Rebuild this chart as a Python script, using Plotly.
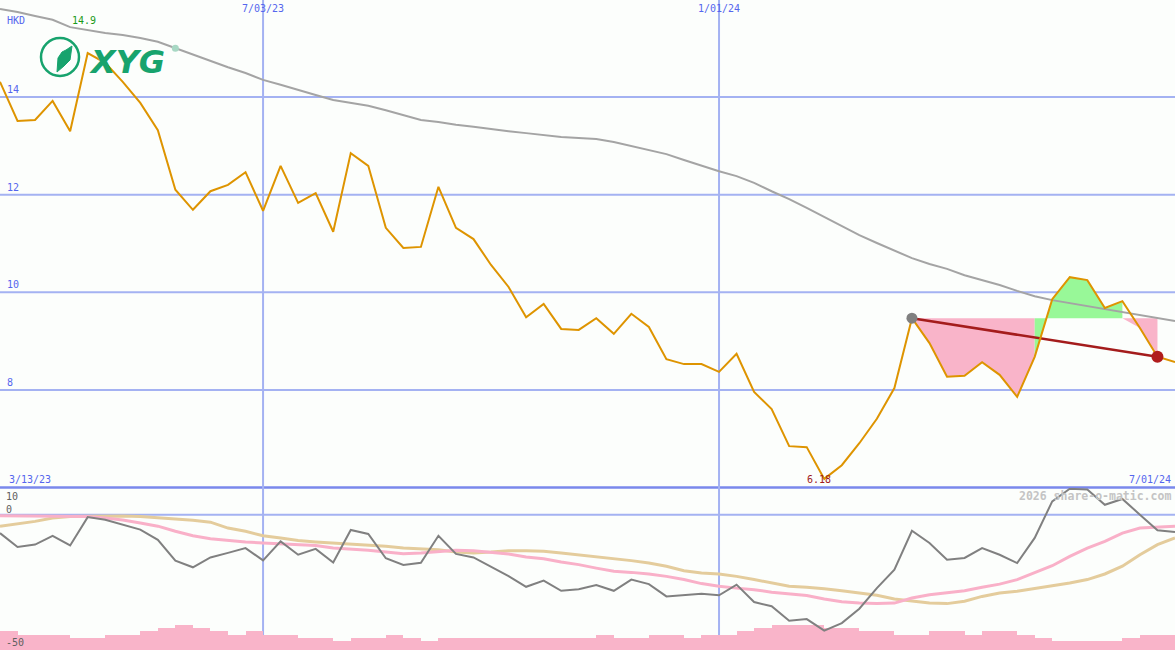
import pandas as pd
import plotly.graph_objects as go

# ---------------- data ----------------
dates = pd.date_range("2023-03-20", periods=68, freq="7D")

price = [14.31, 13.51, 13.53, 13.92, 13.30, 14.90, 14.70, 14.31, 13.88, 13.32,
         12.10, 11.69, 12.07, 12.20, 12.46, 11.67, 12.59, 11.83, 12.03, 11.24,
         12.85, 12.59, 11.32, 10.91, 10.93, 12.16, 11.32, 11.09, 10.56, 10.11,
         9.49, 9.76, 9.25, 9.23, 9.47, 9.15, 9.56, 9.29, 8.63, 8.53,
         8.53, 8.37, 8.74, 7.96, 7.61, 6.85, 6.83, 6.18, 6.46, 6.91,
         7.41, 8.04, 9.47, 8.96, 8.27, 8.29, 8.57, 8.31, 7.86, 8.68,
         9.86, 10.31, 10.25, 9.68, 9.82, 9.27, 8.68, 8.57]

moving_avg = [15.80, 15.74, 15.66, 15.58, 15.43, 15.37, 15.31, 15.27, 15.21, 15.13,
              15.00, 14.86, 14.74, 14.61, 14.49, 14.35, 14.25, 14.14, 14.04, 13.94,
              13.88, 13.82, 13.73, 13.63, 13.53, 13.49, 13.43, 13.39, 13.34, 13.30,
              13.26, 13.22, 13.18, 13.16, 13.14, 13.08, 13.00, 12.91, 12.83, 12.71,
              12.59, 12.48, 12.38, 12.24, 12.07, 11.91, 11.73, 11.54, 11.36, 11.17,
              11.01, 10.85, 10.70, 10.58, 10.48, 10.35, 10.25, 10.15, 10.03, 9.92,
              9.84, 9.78, 9.72, 9.66, 9.60, 9.54, 9.47, 9.41]

oscillator = [-6.9, -12.1, -11.2, -7.9, -11.5, -0.9, -1.9, -3.7, -5.6, -9.4,
              -17.2, -19.7, -16.0, -14.3, -12.5, -17.1, -10.0, -15.0, -12.8, -17.9,
              -5.7, -7.2, -16.3, -18.8, -18.0, -7.9, -14.7, -16.0, -19.5, -23.0,
              -27.0, -24.7, -28.5, -27.9, -26.3, -28.5, -24.3, -26.0, -30.6, -30.2,
              -29.6, -30.2, -26.2, -32.7, -34.3, -39.7, -39.1, -43.4, -40.6, -35.2,
              -27.5, -20.6, -6.0, -10.6, -16.9, -16.2, -12.5, -15.0, -18.1, -8.7,
              5.0, 9.7, 9.4, 3.7, 5.9, 0.0, -5.8, -6.5]

osc_fast = [-0.4, -0.5, -0.6, -0.6, -0.6, -0.7, -1.2, -2.0, -3.1, -4.3,
            -6.2, -7.9, -9.0, -9.7, -10.2, -10.6, -10.9, -11.2, -11.5, -12.5,
            -12.8, -13.3, -14.0, -14.6, -14.3, -13.7, -13.3, -13.5, -14.1, -14.7,
            -15.8, -16.5, -17.7, -18.7, -20.0, -21.2, -21.6, -22.2, -23.1, -24.3,
            -25.8, -26.8, -27.5, -28.1, -29.0, -29.7, -30.3, -31.6, -32.6, -33.1,
            -33.3, -33.1, -31.2, -30.0, -29.3, -28.5, -27.2, -26.0, -24.3, -21.8,
            -19.1, -15.6, -12.5, -10.0, -6.9, -5.0, -4.7, -4.3]

osc_slow = [-4.3, -3.5, -2.5, -1.2, -0.7, -0.6, -0.5, -0.5, -0.7, -1.1,
            -1.6, -2.1, -2.8, -5.0, -6.2, -7.9, -8.7, -9.7, -10.2, -10.6,
            -11.0, -11.2, -11.8, -12.5, -12.7, -13.1, -14.0, -14.3, -14.0, -13.5,
            -13.5, -13.7, -14.3, -15.0, -15.8, -16.5, -17.2, -18.1, -19.3, -21.0,
            -21.8, -22.2, -23.1, -24.3, -25.6, -26.8, -27.2, -27.7, -28.5, -29.3,
            -30.2, -31.6, -32.4, -33.1, -33.3, -32.4, -30.6, -29.3, -28.7, -27.7,
            -26.8, -25.6, -24.3, -22.2, -19.3, -15.0, -11.2, -8.7]

volume = [19, 15, 15, 15, 12, 12, 15, 15, 19, 22, 25, 22, 19, 15, 19, 15, 15, 12, 12, 9,
          12, 12, 15, 12, 9, 12, 12, 12, 12, 12, 12, 12, 12, 12, 15, 12, 12, 15, 15, 12,
          15, 15, 19, 22, 25, 25, 25, 22, 22, 19, 19, 15, 15, 19, 19, 15, 19, 19, 15, 12,
          9, 9, 9, 9, 12, 15, 15, 15]

grid_levels = [8, 10, 12, 14]
grid_labels = ["8", "10", "12", "14"]
date_marks = ["2023-07-03", "2024-01-01"]
date_labels = ["7/03/23", "1/01/24"]
trend_start, trend_end = 52, 66
max_idx, min_idx = 5, 47
ma_dot_idx = 10

# ---------------- styling ----------------
W, H = 1175, 650
BG = "#fcfefc"
GRID = "#a4b2f2"
BLUE_TXT = "#5566ee"
MONO = "DejaVu Sans Mono"
MAIN_DOM = [162 / 650, 1.0]
LOW_DOM = [0.0, 162 / 650]


def px(x):
    return x / W


def py(y):
    return 1 - y / H


fig = go.Figure()

# volume bars (bottom panel, base axis y2)
fig.add_trace(go.Bar(
    x=dates, y=volume, xaxis="x", yaxis="y2",
    width=7 * 86400000, offset=0,
    marker=dict(color="#f9b4c9", line=dict(width=0)),
    hoverinfo="skip", showlegend=False))

# oscillator lines (y3 overlays y2)
fig.add_trace(go.Scatter(x=dates, y=osc_slow, xaxis="x", yaxis="y3", mode="lines",
                         line=dict(color="#e4cc9c", width=3), showlegend=False))
fig.add_trace(go.Scatter(x=dates, y=osc_fast, xaxis="x", yaxis="y3", mode="lines",
                         line=dict(color="#f9b0c8", width=3), showlegend=False))
fig.add_trace(go.Scatter(x=dates, y=oscillator, xaxis="x", yaxis="y3", mode="lines",
                         line=dict(color="#808080", width=2), showlegend=False))

# fill areas relative to the trend start level
level = price[trend_start]
pink_x, pink_y, green_x, green_y = [], [], [], []
for i in range(trend_start, trend_end):
    a, b = price[i], price[i + 1]
    if b > level:
        green_x += [dates[i], dates[i], dates[i + 1], dates[i + 1], dates[i], None]
        green_y += [level, a, b, level, level, None]
    else:
        pink_x += [dates[i], dates[i], dates[i + 1], dates[i + 1], dates[i], None]
        pink_y += [level, min(a, level), min(b, level), level, level, None]
fig.add_trace(go.Scatter(x=pink_x, y=pink_y, xaxis="x", yaxis="y", mode="lines",
                         fill="toself", fillcolor="#f9b4c9", line=dict(width=0),
                         hoverinfo="skip", showlegend=False))
fig.add_trace(go.Scatter(x=green_x, y=green_y, xaxis="x", yaxis="y", mode="lines",
                         fill="toself", fillcolor="#98f898", line=dict(width=0),
                         hoverinfo="skip", showlegend=False))

# moving average
fig.add_trace(go.Scatter(x=dates, y=moving_avg, xaxis="x", yaxis="y", mode="lines",
                         line=dict(color="#a4a4a4", width=2), showlegend=False))
fig.add_trace(go.Scatter(x=[dates[ma_dot_idx]], y=[moving_avg[ma_dot_idx]], xaxis="x", yaxis="y",
                         mode="markers", marker=dict(color="#a8d8c4", size=7), showlegend=False))

# trend line
fig.add_trace(go.Scatter(x=[dates[trend_start], dates[trend_end]],
                         y=[price[trend_start], price[trend_end]], xaxis="x", yaxis="y",
                         mode="lines", line=dict(color="#a41c1c", width=2.5), showlegend=False))

# price
fig.add_trace(go.Scatter(x=dates, y=price, xaxis="x", yaxis="y", mode="lines",
                         line=dict(color="#de9400", width=2), showlegend=False))

# trend end-point markers
fig.add_trace(go.Scatter(x=[dates[trend_start]], y=[price[trend_start]], xaxis="x", yaxis="y",
                         mode="markers", marker=dict(color="#808080", size=11), showlegend=False))
fig.add_trace(go.Scatter(x=[dates[trend_end]], y=[price[trend_end]], xaxis="x", yaxis="y",
                         mode="markers", marker=dict(color="#b01c1c", size=12), showlegend=False))

shapes = []
for lv in grid_levels:
    shapes.append(dict(type="line", xref="paper", yref="y", x0=0, x1=1, y0=lv, y1=lv,
                       line=dict(color=GRID, width=2), layer="below"))
# bottom line of the main panel
shapes.append(dict(type="line", xref="paper", yref="paper", x0=0, x1=1,
                   y0=py(487.5), y1=py(487.5), line=dict(color="#7a88ec", width=2.5), layer="below"))
# zero line of the lower panel
shapes.append(dict(type="line", xref="paper", yref="y3", x0=0, x1=1, y0=0, y1=0,
                   line=dict(color=GRID, width=2), layer="below"))
for d in date_marks:
    shapes.append(dict(type="line", xref="x", yref="paper", x0=d, x1=d, y0=0, y1=1,
                       line=dict(color=GRID, width=2), layer="below"))
# logo ring
shapes.append(dict(type="circle", xref="paper", yref="paper",
                   x0=px(41), x1=px(79), y0=py(76), y1=py(38),
                   line=dict(color="#17a36d", width=2.5), layer="above"))
shapes.append(dict(type="path", xref="paper", yref="paper",
                   path=f"M {px(57)} {py(72)} L {px(58)} {py(58)} L {px(62)} {py(52)} "
                        f"L {px(66)} {py(50)} L {px(72)} {py(46)} L {px(70)} {py(60)} "
                        f"L {px(64)} {py(66)} Z",
                   fillcolor="#17a36d", line=dict(color="#17a36d", width=1), layer="above"))

annotations = []


def label(text, x, y, color, size=10, xanchor="left", bold=False):
    annotations.append(dict(text=f"<b>{text}</b>" if bold else text, x=px(x), y=py(y),
                            xref="paper", yref="paper", showarrow=False,
                            xanchor=xanchor, yanchor="middle",
                            font=dict(family=MONO, size=size, color=color)))


label("HKD", 5, 21, BLUE_TXT)
for lv, lt in zip(grid_levels, grid_labels):
    annotations.append(dict(text=lt, x=px(5), y=lv, xref="paper", yref="y", showarrow=False,
                            xanchor="left", yanchor="bottom", yshift=0,
                            font=dict(family=MONO, size=10, color=BLUE_TXT)))
for d, t in zip(date_marks, date_labels):
    annotations.append(dict(text=t, x=d, y=py(9), xref="x", yref="paper", showarrow=False,
                            xanchor="center", yanchor="middle",
                            font=dict(family=MONO, size=10, color=BLUE_TXT)))
label("3/13/23", 7, 479, BLUE_TXT)
label("7/01/24", 1173, 479, BLUE_TXT, xanchor="right")
label("10", 4, 496, "#606060")
label("0", 4, 509, "#606060")
label("-50", 4, 642, "#606060")
annotations.append(dict(text=f"{price[max_idx]:.1f}", x=dates[max_idx], y=py(21), xref="x",
                        yref="paper", showarrow=False, xanchor="center", yanchor="middle",
                        xshift=-4, font=dict(family=MONO, size=10, color="#1a9a1a")))
annotations.append(dict(text=f"{price[min_idx]:.2f}", x=dates[min_idx], y=py(479), xref="x",
                        yref="paper", showarrow=False, xanchor="center", yanchor="middle",
                        xshift=-5, font=dict(family=MONO, size=10, color="#a01c1c")))
label("2026 share-o-matic.com", 1173, 496, "#c4c4c4", size=11.5, xanchor="right", bold=True)
annotations.append(dict(text="<b><i>XYG</i></b>", x=px(127), y=py(62), xref="paper", yref="paper",
                        showarrow=False, xanchor="center", yanchor="middle",
                        font=dict(family="DejaVu Sans", size=32, color="#17a36d")))

fig.update_layout(
    width=W, height=H, autosize=False,
    margin=dict(l=0, r=0, t=0, b=0, pad=0),
    paper_bgcolor=BG, plot_bgcolor=BG,
    showlegend=False, bargap=0, hovermode=False,
    xaxis=dict(type="date", domain=[0, 1], range=["2023-03-20", "2024-07-01"],
               showgrid=False, zeroline=False, showticklabels=False, ticks="",
               showline=False, anchor="y2"),
    yaxis=dict(domain=MAIN_DOM, range=[5.993, 15.986], showgrid=False, zeroline=False,
               showticklabels=False, ticks="", showline=False, anchor="x"),
    yaxis2=dict(domain=LOW_DOM, range=[0, 162], showgrid=False, zeroline=False,
                showticklabels=False, ticks="", showline=False, anchor="x"),
    yaxis3=dict(domain=LOW_DOM, range=[-50.67, 10.0], overlaying="y2", showgrid=False,
                zeroline=False, showticklabels=False, ticks="", showline=False, anchor="x"),
    shapes=shapes, annotations=annotations,
)

fig.write_html("out.html", config={"displayModeBar": False},
               post_script="document.body.style.margin='0';document.body.style.overflow='hidden';")
